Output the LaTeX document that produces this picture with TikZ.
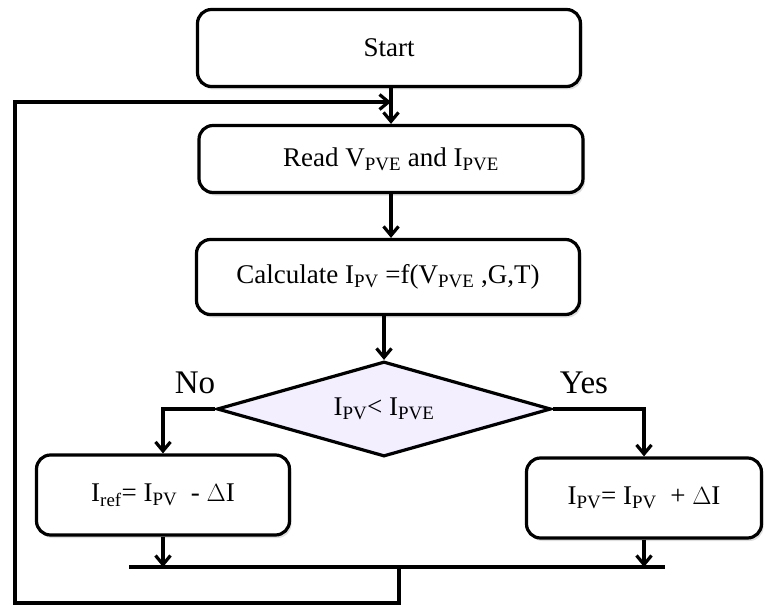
\documentclass[tikz,border=0pt]{standalone}
\usepackage{fontspec}
\setmainfont{Liberation Serif}
\usetikzlibrary{shapes.geometric,arrows.meta,shadows}
\definecolor{declilac}{RGB}{243,239,255}

\begin{document}
\begin{tikzpicture}[x=1pt,y=-1pt,
    box/.style={draw,rounded corners=14pt,line width=3.2pt,fill=white,
      drop shadow={opacity=0.25,shadow xshift=2pt,shadow yshift=-3pt},
      font=\fontsize{27}{31}\selectfont,inner sep=0pt},
    decision/.style={diamond,aspect=3.5,draw,line width=3.2pt,fill=declilac,
      minimum width=334pt,minimum height=95pt,inner sep=0pt,
      font=\fontsize{27}{31}\selectfont},
    arr/.style={line width=3.2pt,-{Straight Barb[length=9pt,width=15pt]}},
    wire/.style={line width=3.2pt},
    lbl/.style={font=\fontsize{33}{36}\selectfont}]
    \useasboundingbox (0,0) rectangle (765,607);
    \node[box,minimum width=383pt,minimum height=77pt] (start) at (389,48) {Start};
    \node[box,minimum width=384pt,minimum height=67pt] (read) at (391,159)
      {Read V\textsubscript{PVE} and I\textsubscript{PVE}};
    \node[box,minimum width=383pt,minimum height=75pt] (calc) at (388,277)
      {Calculate I\textsubscript{PV} =f(V\textsubscript{PVE} ,G,T)};
    \node[decision] (dec) at (384,409) {I\textsubscript{PV}< I\textsubscript{PVE}};
    \node[box,minimum width=253pt,minimum height=80pt] (lbox) at (163,495)
      {I\textsubscript{ref}= I\textsubscript{PV}~~- $\Delta$I};
    \node[box,minimum width=235pt,minimum height=80pt] (rbox) at (644,498)
      {I\textsubscript{PV}= I\textsubscript{PV}~~+ $\Delta$I};
    \node[lbl] (no) at (195,383) {No};
    \node[lbl] (yes) at (584,383) {Yes};
    % merge line and feedback loop
    \coordinate (jl) at (129,567);
    \coordinate (jr) at (665,567);
    \coordinate (fb) at (399,567);
    \coordinate (fbd) at (399,603);
    \coordinate (fbl) at (15,603);
    \coordinate (fbt) at (15,102);
    \draw[arr] (start.south -| read.north) -- (read.north);
    \draw[arr] (read) -- (read.south |- calc.north);
    \draw[arr] (calc.south -| dec.north) -- (dec.north);
    \draw[arr] (dec.west) -| (lbox.north);
    \draw[arr] (dec.east) -| (rbox.north);
    \draw[arr] (lbox.south) -- (lbox.south |- jl);
    \draw[arr] (rbox.south) -- (rbox.south |- jr);
    \draw[wire] (jl) -- (jr);
    \draw[arr] (fb) -- (fbd) -- (fbl) -- (fbt) -- (fbt -| read.north);
\end{tikzpicture}
\end{document}
